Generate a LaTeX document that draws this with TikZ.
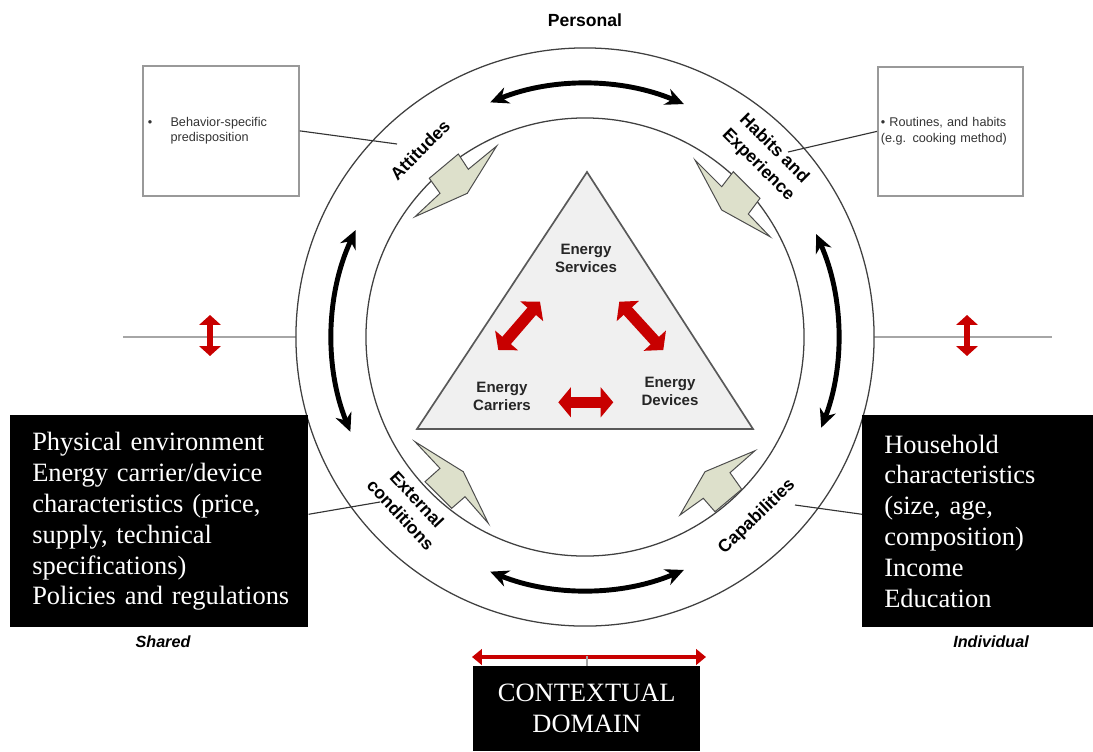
\documentclass[tikz,border=0pt]{standalone}
\usepackage{fontspec}
\setmainfont{Liberation Serif}
\newfontfamily\arialfont{Liberation Sans}
\usetikzlibrary{arrows.meta}

\definecolor{boltgreen}{RGB}{221,224,203}
\definecolor{arrowred}{RGB}{200,0,0}
\definecolor{trianglegray}{RGB}{240,240,240}

\begin{document}
\begin{tikzpicture}[x=0.025cm,y=-0.025cm,
  ring/.style={draw=black!75,line width=0.9pt},
  bolt/.style={draw=black!70,fill=boltgreen,line width=0.7pt},
  ringlabel/.style={font=\arialfont\bfseries\fontsize{12.5}{16}\selectfont,align=center,inner sep=0pt},
  energylabel/.style={font=\arialfont\bfseries\fontsize{10.7}{12.8}\selectfont,align=center,inner sep=0pt,text=black!85},
  notebox/.style={draw=black!40,line width=1.2pt,align=left,font=\arialfont\fontsize{9}{11}\selectfont,text=black!80},
  blackbox/.style={fill=black,text=white,font=\fontsize{18.8}{22}\selectfont,inner sep=0pt},
  ringarrow/.style={line width=3.5pt,{Stealth[length=13pt,width=12pt]}-{Stealth[length=13pt,width=12pt]}},
  redarrow/.style={arrowred,line width=8pt,{Triangle[length=9pt,width=21pt]}-{Triangle[length=9pt,width=21pt]}},
  sidearrow/.style={arrowred,line width=4.3pt,{Triangle[length=7pt,width=15pt]}-{Triangle[length=7pt,width=15pt]}},
  leader/.style={draw=black!80,line width=0.8pt},
  sideline/.style={draw=black!35,line width=1.4pt}]

\useasboundingbox (0,0) rectangle (1093,751);
\coordinate (c) at (585,337);

% Side lines
\draw[sideline] (123,337) -- ([shift={(180:7.225cm)}]c);
\draw[sideline] ([shift={(0:7.225cm)}]c) -- (1052,337);
\draw[sidearrow] (210,315) -- (210,356);
\draw[sidearrow] (967,315) -- (967,356);

% Rings
\draw[ring,fill=white] (c) circle[radius=7.225cm];
\draw[ring] (c) circle[radius=5.475cm];

% Arrows between the rings
\draw[ringarrow] ([shift={(112:6.325cm)}]c) arc[start angle=112,end angle=67,radius=6.325cm];
\draw[ringarrow] ([shift={(155:6.325cm)}]c) arc[start angle=155,end angle=202,radius=6.325cm];
\draw[ringarrow] ([shift={(248:6.325cm)}]c) arc[start angle=248,end angle=293,radius=6.325cm];
\draw[ringarrow] ([shift={(-21:6.325cm)}]c) arc[start angle=-21,end angle=24,radius=6.325cm];

% Labels on the ring
\node[ringlabel,rotate=45] (attitudes) at (420,150) {Attitudes};
\node[ringlabel,rotate=-45] (habits) at (766,157) {Habits and\\Experience};
\node[ringlabel,rotate=-47] (external) at (409,507) {External\\conditions};
\node[ringlabel,rotate=44] (capabilities) at (757,517) {Capabilities};

% Bolts
\draw[bolt] (496.7,146) -- (468.3,169.3) -- (458.3,154) -- (429.3,178.3) -- (440,193.3) -- (415,216.7) -- (467.3,193.3) -- cycle;
\draw[bolt] (695,160) -- (721.7,186.7) -- (733.3,171.7) -- (760,198.3) -- (748.3,214) -- (770,236.7) -- (721.7,210) -- cycle;
\draw[bolt] (415,441.7) -- (463.3,471.7) -- (488.3,523.3) -- (465,496.7) -- (451.7,508.3) -- (425,481.7) -- (440,468.3) -- cycle;
\draw[bolt] (755,450.7) -- (730,472.7) -- (741.7,489.3) -- (715,511.7) -- (703.3,498.3) -- (680,515) -- (705,471.7) -- cycle;

% Triangle
\draw[draw=black!65,line width=1.2pt,fill=trianglegray] (417,429) -- (587,172) -- (753,429) -- cycle;
\node[energylabel] (services) at (586,258) {Energy\\Services};
\node[energylabel] (carriers) at (502,396) {Energy\\Carriers};
\node[energylabel] (devices) at (670,391) {Energy\\Devices};
\draw[redarrow] (498.3,350) -- (540,301.7);
\draw[redarrow] (619.3,301.7) -- (663.3,350);
\draw[redarrow] (558.3,402.3) -- (613.3,402.3);

% Note boxes
\node[notebox,anchor=north west,minimum width=3.9cm,minimum height=3.25cm,text width=3.65cm,inner xsep=0.125cm] (attbox) at (142,65)
  {\textbullet\hspace{13pt}\begin{tabular}[t]{@{}l@{}}Behavior-specific\\predisposition\end{tabular}};
\node[notebox,anchor=north west,minimum width=3.625cm,minimum height=3.225cm,text width=3.475cm,inner xsep=0.075cm] (habbox) at (877,66)
  {\textbullet\ Routines, and habits\\(e.g. cooking method)};
\coordinate (attend) at (397,144);
\coordinate (habend) at (788,152);
\draw[leader] (attbox.east) -- (attend);
\draw[leader] (habbox.west) -- (habend);

% Black boxes
\node[blackbox,anchor=north west,minimum width=7.45cm,minimum height=5.3cm,text width=6.35cm,align=left] (physbox) at (10,415)
  {Physical environment\\Energy carrier/device\\characteristics (price,\\supply, technical\\specifications)\\\mbox{Policies and regulations}};
\node[blackbox,anchor=north west,minimum width=5.775cm,minimum height=5.3cm,text width=4.675cm,align=left] (housebox) at (862,415)
  {Household\\characteristics\\(size, age,\\composition)\\Income\\Education};
\coordinate (extend) at (380,502);
\coordinate (capend) at (795,505);
\draw[leader] ([yshift=5pt]physbox.east) -- (extend);
\draw[leader] ([yshift=5pt]housebox.west) -- (capend);

% Contextual domain
\node[blackbox,anchor=north west,minimum width=5.675cm,minimum height=2.125cm,align=center] (ctxbox) at (473,666) {CONTEXTUAL\\DOMAIN};
\coordinate (ctxleft) at (472,657);
\coordinate (ctxright) at (706,657);
\draw[arrowred,line width=2.4pt,{Triangle[length=7pt,width=11pt]}-{Triangle[length=7pt,width=11pt]}] (ctxleft) -- (ctxright);
\draw[sideline,line width=1pt] (ctxbox.north) -- ++(0,-10);

% Axis labels
\node[font=\arialfont\bfseries\fontsize{12.5}{15}\selectfont] (personal) at (585,20) {Personal};
\node[font=\arialfont\bfseries\itshape\fontsize{11.5}{14}\selectfont] (shared) at (163,642) {Shared};
\node[font=\arialfont\bfseries\itshape\fontsize{11.5}{14}\selectfont] (individual) at (991,642) {Individual};

\end{tikzpicture}
\end{document}
